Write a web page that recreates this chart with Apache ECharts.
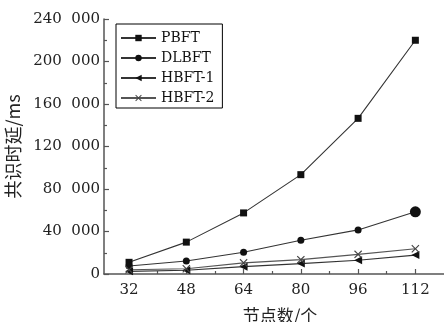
<!DOCTYPE html>
<html>
<head>
<meta charset="utf-8">
<script src="https://cdn.jsdelivr.net/npm/echarts@6/dist/echarts.min.js"></script>
<style>
  html, body { margin: 0; padding: 0; background: #fff; }
  #chart { width: 444px; height: 322px; }
</style>
</head>
<body>
<div id="chart"></div>
<script>
// node counts on the x axis
const nodeCounts = [32, 48, 64, 80, 96, 112];
const minorNodeTicks = [40, 56, 72, 88, 104];

// consensus latency, ms
const pbft = [11000, 30000, 57500, 93500, 146500, 220000];
const dlbft = [7500, 12200, 20500, 31800, 41500, 58500];
const hbft1 = [2500, 3500, 6900, 9800, 13000, 17800];
const hbft2 = [4000, 5000, 10500, 13500, 18500, 23700];

const seriesNames = ['PBFT', 'DLBFT', 'HBFT-1', 'HBFT-2'];

const serif = '"DejaVu Serif", "Liberation Serif", serif';
const cjk = '"Noto Sans CJK SC", "DejaVu Serif", sans-serif';
const crossPath = 'path://M0,1L1,0L5,4L9,0L10,1L6,5L10,9L9,10L5,6L1,10L0,9L4,5Z';

function pairs(values) {
  return values.map((v, i) => [nodeCounts[i], v]);
}

const chart = echarts.init(document.getElementById('chart'));

const axisLine = { show: true, lineStyle: { color: '#555', width: 1.5 } };

chart.setOption({
  animation: false,
  grid: { left: 104, right: 0, top: 19, bottom: 48, containLabel: false, outerBoundsMode: 'none' },
  legend: {
    orient: 'vertical',
    left: 116,
    top: 24,
    data: seriesNames,
    itemWidth: 35,
    itemHeight: 8,
    itemGap: 6,
    padding: [7, 8, 3, 4],
    borderColor: '#000',
    borderWidth: 1,
    textStyle: { fontFamily: serif, fontSize: 14, color: '#111', lineHeight: 14 }
  },
  xAxis: [
    {
      type: 'value',
      min: 25,
      max: 120,
      name: '节点数/个',
      nameLocation: 'middle',
      nameGap: 33,
      nameTextStyle: { fontFamily: cjk, fontSize: 17, color: '#222', padding: [0, 0, 0, 12] },
      axisLine: axisLine,
      axisTick: { show: true, inside: true, length: 5, customValues: nodeCounts, lineStyle: { color: '#555', width: 1.2 } },
      axisLabel: { customValues: nodeCounts, margin: 9, fontFamily: serif, fontSize: 15, color: '#222' },
      splitLine: { show: false }
    },
    {
      type: 'value',
      min: 25,
      max: 120,
      position: 'bottom',
      axisLine: { show: false },
      axisTick: { show: true, inside: true, length: 3, customValues: minorNodeTicks, lineStyle: { color: '#555', width: 1.2 } },
      axisLabel: { show: false },
      splitLine: { show: false }
    }
  ],
  yAxis: {
    type: 'value',
    min: 0,
    max: 240000,
    interval: 40000,
    name: '共识时延/ms',
    nameLocation: 'middle',
    nameGap: 76,
    nameTextStyle: { fontFamily: cjk, fontSize: 18, color: '#222' },
    axisLine: axisLine,
    axisTick: { show: true, inside: true, length: 5, lineStyle: { color: '#555', width: 1.2 } },
    minorTick: { show: true, splitNumber: 2, length: 3, lineStyle: { color: '#555', width: 1.2 } },
    axisLabel: {
      margin: 4,
      fontFamily: serif,
      fontSize: 15,
      color: '#222',
      formatter: v => (v === 0 ? '0' : (v / 1000) + '  000')
    },
    splitLine: { show: false }
  },
  series: [
    {
      name: 'PBFT', type: 'line', data: pairs(pbft),
      symbol: 'rect', symbolSize: 7,
      lineStyle: { color: '#333', width: 1.1 }, itemStyle: { color: '#111' }
    },
    {
      name: 'DLBFT', type: 'line',
      data: pairs(dlbft).map((p, i) => (i === dlbft.length - 1 ? { value: p, symbolSize: 11 } : p)),
      symbol: 'circle', symbolSize: 7,
      lineStyle: { color: '#333', width: 1.1 }, itemStyle: { color: '#111' }
    },
    {
      name: 'HBFT-1', type: 'line', data: pairs(hbft1),
      symbol: 'triangle', symbolRotate: 90, symbolSize: 8,
      lineStyle: { color: '#333', width: 1.1 }, itemStyle: { color: '#111' }
    },
    {
      name: 'HBFT-2', type: 'line', data: pairs(hbft2),
      symbol: crossPath, symbolSize: 8,
      lineStyle: { color: '#555', width: 1.1 }, itemStyle: { color: '#444' }
    }
  ]
});
</script>
</body>
</html>
